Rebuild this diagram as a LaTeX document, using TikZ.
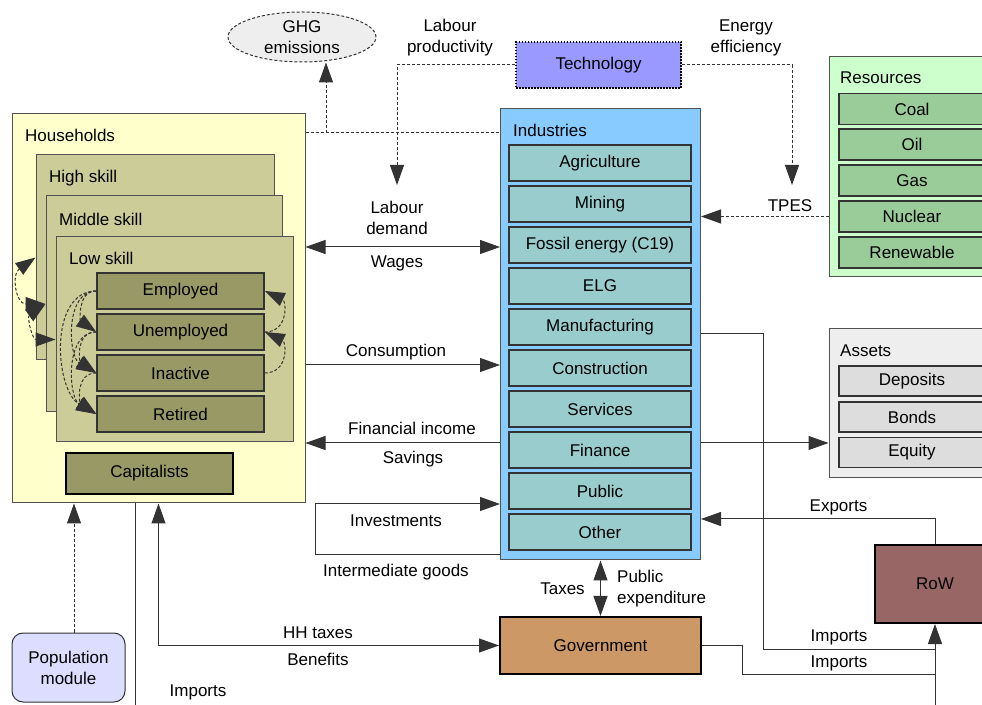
\documentclass[tikz,border=0pt]{standalone}
\usepackage{fontspec}
\setmainfont{Liberation Sans}
\usetikzlibrary{arrows.meta,shapes.geometric,calc}

\definecolor{hhfill}{HTML}{FFFFCC}
\definecolor{skillfill}{HTML}{CCCC99}
\definecolor{statefill}{HTML}{999966}
\definecolor{indfill}{HTML}{88CCFF}
\definecolor{secfill}{HTML}{99CCCC}
\definecolor{techfill}{HTML}{9999FF}
\definecolor{resfill}{HTML}{CCFFCC}
\definecolor{resitem}{HTML}{99CC99}
\definecolor{assetfill}{HTML}{EEEEEE}
\definecolor{assetitem}{HTML}{DDDDDD}
\definecolor{govfill}{HTML}{CC9966}
\definecolor{rowfill}{HTML}{996666}
\definecolor{popfill}{HTML}{DDDDFF}
\definecolor{ghgfill}{HTML}{EEEEEE}
\definecolor{edge}{HTML}{333333}

\begin{document}
\begin{tikzpicture}[x=1pt,y=1pt,
  font=\fontsize{17}{21}\selectfont,
  >={Triangle[length=20pt,width=14pt]},
  container/.style={draw=edge!85, line width=1pt, inner sep=0pt},
  skill/.style={draw=edge!85, line width=1pt, fill=skillfill, inner sep=0pt},
  state/.style={draw=edge, line width=1.5pt, fill=statefill, inner sep=0pt,
                minimum width=167pt, minimum height=36pt},
  sector/.style={draw=edge, line width=1.5pt, fill=secfill, inner sep=0pt,
                 minimum width=182pt, minimum height=36pt},
  resitembox/.style={draw=edge, line width=1.5pt, fill=resitem, inner sep=0pt,
                 minimum width=146pt, minimum height=31pt},
  assetbox/.style={draw=edge, line width=1.5pt, fill=assetitem, inner sep=0pt,
                 minimum width=146pt, minimum height=30pt},
  heavybox/.style={draw=black, line width=2pt, inner sep=0pt},
  lbl/.style={inner sep=0pt, anchor=west},
  txt/.style={inner sep=0pt, align=center},
  conn/.style={draw=edge, line width=1pt},
  dsh/.style={conn, dash pattern=on 3pt off 2pt}]

% canvas
\path[use as bounding box] (0,0) rectangle (982,704);
\clip (0,0) rectangle (982,704);
\fill[white] (0,0) rectangle (982,704);

% ---------------- households ----------------
\node[container, fill=hhfill, minimum width=293pt, minimum height=389pt] (hh) at (158.5,395.5) {};
\node[lbl] (hhlbl) at (25,569) {Households};
\node[skill, minimum width=238pt, minimum height=205pt] (high) at (155,446.5) {};
\node[lbl] (highlbl) at (49,526) {High skill};
\node[skill, minimum width=236pt, minimum height=216pt] (mid) at (164,400) {};
\node[lbl] (midlbl) at (59,485) {Middle skill};
\node[skill, minimum width=237pt, minimum height=205pt] (low) at (174.5,364.5) {};
\node[lbl] (lowlbl) at (69,446) {Low skill};
\node[state] (emp) at (180.5,413) {Employed};
\node[state] (unemp) at (180.5,372) {Unemployed};
\node[state] (inact) at (180.5,331) {Inactive};
\node[state] (ret) at (180.5,290) {Retired};
\node[state, heavybox, minimum height=41pt] (cap) at (149.5,230.5) {Capitalists};

% ---------------- industries ----------------
\node[container, fill=indfill, minimum width=200pt, minimum height=451pt] (ind) at (600.5,369.5) {};
\node[lbl] (indlbl) at (513,574) {Industries};
\node[sector] (agri) at (600,541) {Agriculture};
\node[sector] (mining) at (600,500) {Mining};
\node[sector] (fossil) at (600,459) {Fossil energy (C19)};
\node[sector] (elg) at (600,418) {ELG};
\node[sector] (manu) at (600,377) {Manufacturing};
\node[sector] (constr) at (600,336) {Construction};
\node[sector] (serv) at (600,295) {Services};
\node[sector] (fin) at (600,254) {Finance};
\node[sector] (pub) at (600,213) {Public};
\node[sector] (other) at (600,172) {Other};

% ---------------- resources ----------------
\node[container, fill=resfill, minimum width=166pt, minimum height=220pt] (res) at (912,537) {};
\node[lbl] (reslbl) at (840,626) {Resources};
\node[resitembox] (coal) at (912,595) {Coal};
\node[resitembox] (oil) at (912,559.5) {Oil};
\node[resitembox] (gas) at (912,523.5) {Gas};
\node[resitembox] (nuc) at (912,487.5) {Nuclear};
\node[resitembox] (renew) at (912,451.5) {Renewable};

% ---------------- assets ----------------
\node[container, fill=assetfill, minimum width=166pt, minimum height=149pt] (assets) at (912,300.5) {};
\node[lbl] (assetlbl) at (840,353) {Assets};
\node[assetbox] (dep) at (912,323) {Deposits};
\node[assetbox] (bonds) at (912,287) {Bonds};
\node[assetbox] (equity) at (912,251.5) {Equity};

% ---------------- other agents ----------------
\node[draw=black, line width=1.5pt, dash pattern=on 1.5pt off 1.5pt, fill=techfill,
      minimum width=165pt, minimum height=46pt, inner sep=0pt] (tech) at (598.5,639) {Technology};
\node[ellipse, draw=edge, line width=1pt, dash pattern=on 3pt off 2pt, fill=ghgfill,
      minimum width=148pt, minimum height=50pt, inner sep=0pt, align=center] (ghg) at (302,667) {GHG\\emissions};
\node[heavybox, fill=govfill, minimum width=201pt, minimum height=57pt] (gov) at (600.5,58.5) {Government};
\node[heavybox, fill=rowfill, minimum width=120pt, minimum height=78pt] (row) at (935,120) {RoW};
\node[draw=edge, line width=1pt, rounded corners=11pt, fill=popfill, align=center,
      minimum width=113pt, minimum height=69pt, inner sep=0pt] (pop) at (68.5,36.5) {Population\\module};

% ---------------- routing points ----------------
\coordinate (g1) at (326,571);
\coordinate (labtip) at (397,519);
\coordinate (entip) at (792,519);
\coordinate (yLab) at (0,457);
\coordinate (yCons) at (0,339);
\coordinate (yFin) at (0,261);
\coordinate (yInv) at (0,200);
\coordinate (yInt) at (0,149);
\coordinate (loopx) at (315,0);
\coordinate (yExp) at (0,185);
\coordinate (yMan) at (0,370);
\coordinate (imp1) at (763,55);
\coordinate (imp2) at (742,30);
\coordinate (popx) at (74,0);
\coordinate (impbot) at (135,-10);
\coordinate (rowbot) at (935,-10);

% ---------------- dashed links ----------------
\draw[dsh] (hh.east |- g1) -- (ind.west |- g1);
\draw[dsh,->] (g1) -- (g1 |- ghg.south);
\draw[dsh,->] (tech.west) -| (labtip);
\draw[dsh,->] (tech.east) -| (entip);
\draw[dsh,->] (res.west |- nuc) -- (ind.east |- nuc);
\draw[dsh,->] (pop.north -| popx) -- (hh.south -| popx);

% ---------------- flows ----------------
\draw[conn,<->] (hh.east |- yLab) -- (ind.west |- yLab);
\draw[conn,->] (hh.east |- yCons) -- (ind.west |- yCons);
\draw[conn,->] (ind.west |- yFin) -- (hh.east |- yFin);
\draw[conn,->] (ind.east |- yFin) -- (assets.west |- yFin);
\draw[conn,->] (ind.west |- yInt) -| (loopx |- yInv) -- (ind.west |- yInv);
\draw[conn,<->] (ind.south) -- (gov.north);
\draw[conn,<->] (hh.south) |- (gov.west);
\draw[conn] (hh.south -| impbot) -- (impbot);
\draw[conn,->] (row.north) |- (ind.east |- yExp);
\draw[conn] (ind.east |- yMan) -| (imp1) -- (rowbot |- imp1);
\draw[conn] (gov.east) -| (imp2) -- (rowbot |- imp2);
\draw[conn,->] (rowbot) -- (row.south);

% ---------------- labour market transitions ----------------
\draw[dsh,<->] (high.west) to[out=215,in=180,looseness=1.6] (mid.west);
\draw[dsh,<->] (mid.west) to[out=215,in=180,looseness=1.6] (low.west);
\draw[dsh,->] (emp.west) to[out=180,in=145,looseness=1.2] (unemp.west);
\draw[dsh,->] (emp.west) to[out=180,in=150,looseness=1.0] (inact.west);
\draw[dsh,->] (emp.west) to[out=180,in=150,looseness=1.0] (ret.west);
\draw[dsh,->] (unemp.west) to[out=180,in=145,looseness=1.3] (inact.west);
\draw[dsh,->] (unemp.west) to[out=180,in=150,looseness=1.0] (ret.west);
\draw[dsh,->] (inact.west) to[out=180,in=145,looseness=1.3] (ret.west);
\draw[dsh,->] (unemp.east) to[out=0,in=-25,looseness=1.5] (emp.east);
\draw[dsh,->] (inact.east) to[out=0,in=-25,looseness=1.5] (unemp.east);

% ---------------- flow labels ----------------
\node[txt] (tlp) at (450,666.5) {Labour\\productivity};
\node[txt] (tee) at (746,666.5) {Energy\\efficiency};
\node[txt] (ttpes) at (790,498) {TPES};
\node[txt] (tld) at (397,486.5) {Labour\\demand};
\node[txt] (twag) at (397,441) {Wages};
\node[txt] (tcons) at (396,352) {Consumption};
\node[txt] (tfin) at (412,276) {Financial income};
\node[txt] (tsav) at (413,245) {Savings};
\node[txt] (tinv) at (396,183) {Investments};
\node[txt] (tint) at (396,132) {Intermediate goods};
\node[txt] (ttax) at (562.5,115) {Taxes};
\node[txt, align=left, anchor=west] (tpub) at (617,115.5) {Public\\expenditure};
\node[txt] (thh) at (318,71) {HH taxes};
\node[txt] (tben) at (318,45) {Benefits};
\node[txt] (timp0) at (198,12) {Imports};
\node[txt] (texp) at (838.5,197) {Exports};
\node[txt] (timp1) at (839,67) {Imports};
\node[txt] (timp2) at (839,41) {Imports};
\end{tikzpicture}
\end{document}
